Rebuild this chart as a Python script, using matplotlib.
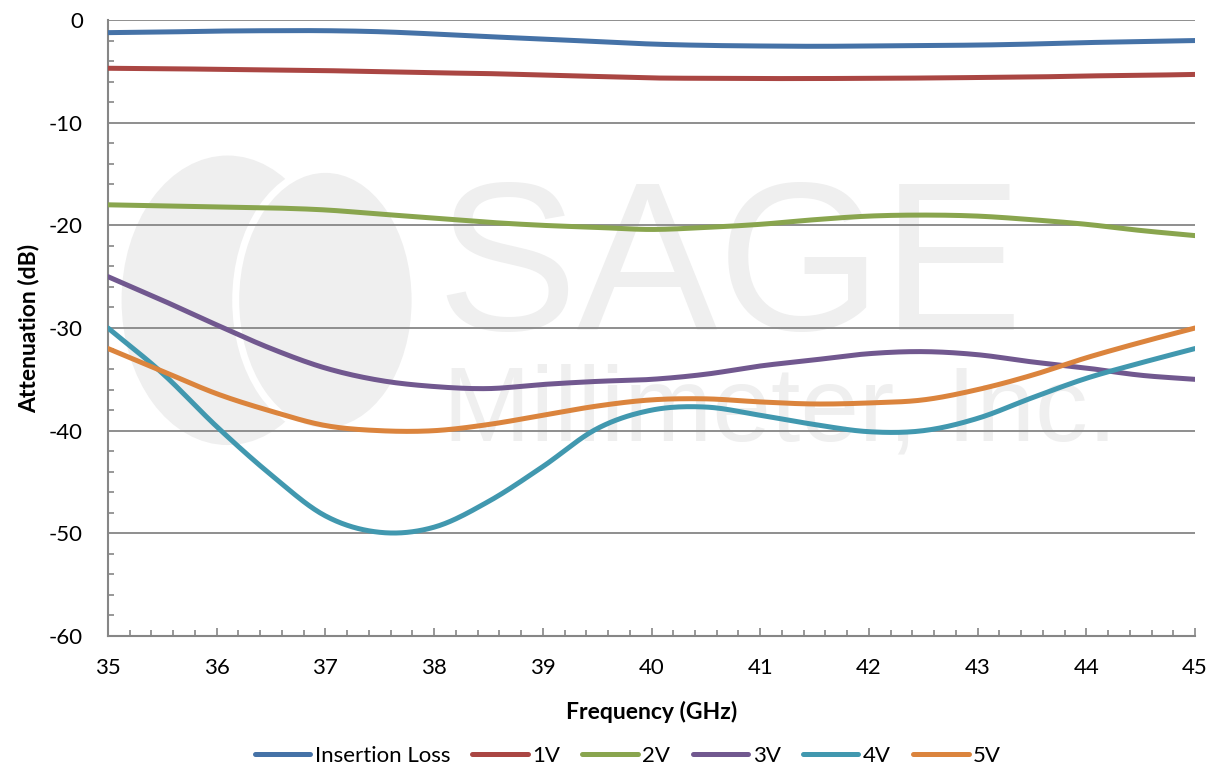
import numpy as np
import matplotlib.pyplot as plt
from matplotlib.patches import Ellipse
from matplotlib.ticker import MultipleLocator

# frequency grid (GHz) and attenuation readings (dB)
freq = [35.0, 35.5, 36.0, 36.5, 37.0, 37.5, 38.0, 38.5, 39.0, 39.5, 40.0,
        40.5, 41.0, 41.5, 42.0, 42.5, 43.0, 43.5, 44.0, 44.5, 45.0]
insertion_loss = [-1.23, -1.17, -1.08, -1.04, -1.04, -1.14, -1.36, -1.62, -1.85, -2.1, -2.34,
                  -2.47, -2.53, -2.56, -2.53, -2.48, -2.44, -2.34, -2.2, -2.1, -2.0]
v1 = [-4.7, -4.74, -4.8, -4.87, -4.93, -5.03, -5.14, -5.22, -5.36, -5.5, -5.64,
      -5.68, -5.7, -5.7, -5.68, -5.65, -5.6, -5.55, -5.45, -5.39, -5.3]
v2 = [-18.0, -18.1, -18.2, -18.3, -18.5, -18.9, -19.3, -19.7, -20.0, -20.2, -20.4,
      -20.2, -19.9, -19.45, -19.1, -19.0, -19.1, -19.45, -19.9, -20.5, -21.0]
v3 = [-25.0, -27.3, -29.7, -32.0, -33.9, -35.1, -35.7, -35.9, -35.5, -35.2, -35.0,
      -34.5, -33.7, -33.1, -32.5, -32.3, -32.6, -33.3, -33.9, -34.6, -35.0]
v4 = [-30.0, -34.4, -39.6, -44.3, -48.3, -49.9, -49.4, -46.9, -43.5, -39.8, -38.0,
      -37.7, -38.5, -39.4, -40.1, -40.0, -38.8, -36.8, -34.9, -33.4, -32.0]
v5 = [-32.0, -34.2, -36.4, -38.1, -39.5, -40.0, -40.0, -39.4, -38.5, -37.6, -37.0,
      -36.9, -37.2, -37.4, -37.3, -37.0, -36.0, -34.6, -32.9, -31.4, -30.0]

series = [("Insertion Loss", insertion_loss, "#4572A7"),
          ("1V", v1, "#AA4643"),
          ("2V", v2, "#89A54E"),
          ("3V", v3, "#71588F"),
          ("4V", v4, "#4198AF"),
          ("5V", v5, "#DB843D")]


def smooth(x, y, n=20):
    # Catmull-Rom curve through the points, like Excel's smoothed line
    x = np.asarray(x, float)
    y = np.asarray(y, float)
    px = np.concatenate([[2 * x[0] - x[1]], x, [2 * x[-1] - x[-2]]])
    py = np.concatenate([[2 * y[0] - y[1]], y, [2 * y[-1] - y[-2]]])
    t = np.linspace(0, 1, n, endpoint=False)
    xs, ys = [], []
    for i in range(1, len(px) - 2):
        for p, out in ((px, xs), (py, ys)):
            p0, p1, p2, p3 = p[i - 1], p[i], p[i + 1], p[i + 2]
            out.append(0.5 * (2 * p1 + (-p0 + p2) * t
                              + (2 * p0 - 5 * p1 + 4 * p2 - p3) * t ** 2
                              + (-p0 + 3 * p1 - 3 * p2 + p3) * t ** 3))
    xs.append([x[-1]])
    ys.append([y[-1]])
    return np.concatenate(xs), np.concatenate(ys)


plt.rcParams['font.family'] = ['Lato', 'DejaVu Sans']
plt.rcParams['axes.unicode_minus'] = False

fig = plt.figure(figsize=(12.12, 7.67), dpi=100)
ax = fig.add_axes([0.0891, 0.1708, 0.8969, 0.8031])

# faint company watermark behind the plot
wm = "#efefef"
ax.add_patch(Ellipse((0.11, 0.545), 0.195, 0.47, transform=ax.transAxes,
                     facecolor=wm, edgecolor="none", zorder=0.1))
ax.add_patch(Ellipse((0.20, 0.545), 0.165, 0.425, transform=ax.transAxes,
                     facecolor=wm, edgecolor="white", lw=5, zorder=0.15))
ax.text(0.572, 0.497, "SAGE", transform=ax.transAxes, fontsize=152,
        family=['Liberation Sans Narrow', 'Liberation Sans'], color=wm,
        ha="center", va="baseline", zorder=0.1)
ax.text(0.618, 0.318, "Millimeter, Inc.", transform=ax.transAxes, fontsize=76,
        family=['Liberation Sans Narrow', 'Liberation Sans'], color=wm,
        ha="center", va="baseline", zorder=0.1)

for name, vals, color in series:
    sx, sy = smooth(freq, vals)
    ax.plot(sx, sy, color=color, lw=3.6, label=name, solid_capstyle="round", zorder=3)

ax.set_xlim(35, 45)
ax.set_ylim(-60, 0)
ax.xaxis.set_major_locator(MultipleLocator(1))
ax.xaxis.set_minor_locator(MultipleLocator(0.2))
ax.yaxis.set_major_locator(MultipleLocator(10))
ax.yaxis.set_minor_locator(MultipleLocator(2))
ax.set_axisbelow(True)
ax.grid(axis="y", which="major", color="#868686", lw=1.3)

for s in ("top", "right"):
    ax.spines[s].set_visible(False)
for s in ("left", "bottom"):
    ax.spines[s].set_color("#868686")
    ax.spines[s].set_linewidth(1.5)

ax.tick_params(axis="x", which="major", direction="in", length=6, width=1.2,
               color="#868686", labelsize=16, pad=16)
ax.tick_params(axis="x", which="minor", direction="in", length=4, width=1.2, color="#868686")
ax.tick_params(axis="y", which="major", direction="in", length=0, labelsize=16, pad=18)
ax.tick_params(axis="y", which="minor", direction="in", length=4, width=1.2, color="#868686")

ax.set_xlabel("Frequency (GHz)", fontsize=16.5, fontweight="bold", labelpad=16)
ax.set_ylabel("Attenuation (dB)", fontsize=16.5, fontweight="bold", labelpad=7)

fig.legend(loc="center", bbox_to_anchor=(0.518, 0.014), ncol=6, frameon=False,
           fontsize=16, handlelength=2.5, handletextpad=0.2, columnspacing=1.0,
           borderaxespad=0)

fig.savefig("out.png", dpi=100)
